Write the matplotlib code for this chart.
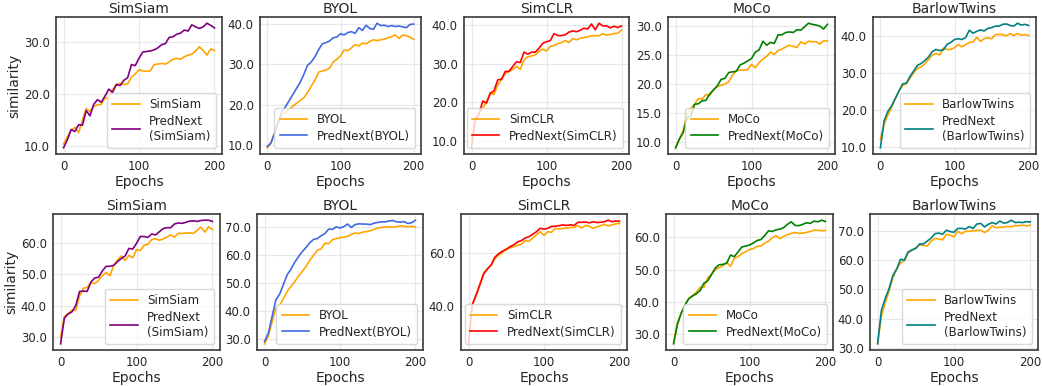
import matplotlib
matplotlib.use("Agg")
import matplotlib.pyplot as plt
from matplotlib.ticker import MultipleLocator, FormatStrFormatter

epochs = list(range(0, 201, 5))
methods = ["SimSiam", "BYOL", "SimCLR", "MoCo", "BarlowTwins"]
pred_labels = ["PredNext\n(SimSiam)", "PredNext(BYOL)", "PredNext(SimCLR)", "PredNext(MoCo)", "PredNext\n(BarlowTwins)"]
pred_colors = ["purple", "royalblue", "red", "green", "teal"]

# top row
simsiam_top_base = [10.4, 11.8, 13.0, 13.6, 12.6, 15.0, 17.2, 16.6, 17.6, 17.9, 18.0, 19.3, 19.0, 20.8, 21.8, 22.0, 21.8,
                    21.9, 23.2, 23.8, 24.6, 24.4, 24.3, 24.4, 25.6, 25.7, 25.8, 25.7, 26.1, 26.6, 26.8, 26.6, 27.1, 27.4,
                    27.6, 28.2, 29.0, 28.3, 27.4, 28.6, 28.3]
simsiam_top_pred = [9.7, 11.2, 13.2, 12.8, 14.1, 14.0, 16.8, 15.8, 18.0, 18.9, 18.4, 19.6, 20.9, 20.3, 21.8, 21.6, 22.6,
                    23.1, 25.6, 25.4, 26.8, 28.0, 28.1, 28.2, 28.4, 28.8, 29.4, 29.6, 30.8, 30.9, 31.4, 31.6, 32.2, 32.0,
                    33.2, 32.8, 32.5, 32.8, 33.5, 33.1, 32.6]
byol_top_base = [9.3, 10.5, 13.0, 16.0, 17.5, 18.0, 18.8, 19.6, 20.3, 21.0, 21.7, 23.0, 24.5, 26.0, 28.0, 28.3, 28.5,
                 29.0, 30.5, 31.2, 32.0, 33.5, 33.3, 34.0, 34.8, 34.5, 35.2, 35.0, 35.6, 36.0, 35.8, 36.0, 36.2, 36.5,
                 36.8, 37.2, 36.3, 37.2, 37.0, 36.7, 36.1]
byol_top_pred = [9.6, 10.5, 13.0, 15.5, 18.3, 19.5, 21.0, 22.5, 24.0, 25.5, 27.5, 29.7, 30.5, 31.8, 33.5, 35.0, 35.3,
                 35.7, 36.5, 36.7, 37.5, 37.2, 37.8, 38.0, 37.6, 39.0, 38.3, 39.6, 38.8, 38.6, 40.1, 39.5, 39.6, 39.3,
                 39.5, 39.3, 39.4, 39.2, 39.0, 39.8, 39.9]
simclr_top_base = [10.4, 15.5, 17.0, 18.5, 20.0, 22.5, 22.0, 24.5, 25.8, 27.5, 28.0, 28.5, 29.3, 28.5, 31.0, 31.8, 32.0,
                   32.3, 33.2, 33.8, 33.3, 34.5, 34.7, 35.2, 35.5, 36.0, 35.5, 36.5, 36.2, 36.6, 36.8, 37.0, 37.2, 37.3,
                   37.2, 37.8, 37.4, 37.6, 37.8, 37.9, 38.7]
simclr_top_pred = [8.2, 15.5, 17.0, 20.3, 19.8, 22.3, 23.0, 25.8, 26.0, 28.0, 28.0, 29.3, 30.5, 30.3, 33.0, 32.5, 33.0,
                   33.0, 34.0, 35.3, 35.7, 36.0, 37.8, 37.3, 37.3, 37.5, 38.2, 38.5, 38.3, 38.7, 39.2, 39.0, 40.3, 38.8,
                   40.5, 39.8, 39.8, 39.3, 39.7, 39.4, 39.8]
moco_top_base = [9.0, 10.5, 12.0, 14.8, 15.8, 16.5, 17.5, 17.4, 18.2, 18.0, 19.0, 19.6, 19.8, 20.0, 20.4, 21.5, 22.3,
                 22.4, 22.4, 22.5, 23.4, 22.8, 23.7, 24.3, 24.8, 25.5, 25.1, 25.8, 26.0, 26.4, 26.7, 26.5, 26.3, 27.3,
                 26.9, 27.4, 27.3, 27.3, 26.9, 27.5, 27.4]
moco_top_pred = [9.0, 10.5, 11.6, 14.2, 14.4, 16.5, 16.6, 17.1, 17.2, 18.3, 19.0, 19.7, 20.8, 21.0, 22.0, 22.1, 22.2,
                 23.3, 23.6, 24.0, 24.4, 25.5, 25.9, 27.4, 26.7, 27.2, 27.0, 28.5, 28.5, 28.9, 29.0, 28.9, 29.4, 29.3,
                 29.9, 30.5, 30.3, 30.2, 30.0, 29.5, 30.3]
barlow_top_base = [12.0, 16.0, 18.5, 20.5, 23.0, 25.0, 26.5, 27.0, 28.5, 30.0, 31.2, 31.6, 32.4, 33.6, 34.8, 35.2, 34.8,
                   36.7, 36.3, 36.3, 36.8, 37.6, 37.0, 37.6, 38.2, 38.3, 39.6, 38.5, 39.2, 39.5, 39.2, 40.3, 40.4, 40.3,
                   40.0, 40.6, 40.1, 40.6, 40.2, 40.3, 40.1]
barlow_top_pred = [9.7, 17.0, 19.5, 21.0, 23.0, 25.0, 27.0, 27.2, 29.0, 30.5, 32.0, 32.5, 33.3, 34.3, 35.7, 36.3, 36.0,
                   36.2, 37.7, 38.2, 39.0, 39.2, 39.0, 39.5, 41.5, 40.7, 41.2, 41.6, 41.3, 42.0, 42.2, 42.6, 42.6, 43.1,
                   43.2, 42.8, 42.6, 43.4, 42.9, 43.1, 42.8]

# bottom row
simsiam_bot_base = [30.0, 36.5, 37.5, 38.5, 38.5, 43.0, 45.5, 45.8, 47.3, 47.0, 48.0, 49.5, 50.5, 49.5, 52.8, 54.5, 55.8,
                    54.3, 56.0, 55.2, 57.8, 57.5, 59.2, 59.5, 61.0, 61.3, 60.8, 61.2, 61.8, 62.5, 61.8, 63.0, 63.0, 63.1,
                    63.1, 63.0, 64.0, 65.0, 63.4, 65.1, 64.2]
simsiam_bot_pred = [27.8, 36.0, 37.3, 38.0, 40.0, 44.5, 44.6, 44.5, 47.5, 48.8, 49.0, 51.0, 52.5, 52.5, 52.8, 54.0, 55.0,
                    55.8, 58.2, 58.0, 59.8, 62.0, 62.0, 61.7, 62.8, 62.5, 63.5, 64.5, 64.8, 64.8, 66.0, 66.3, 66.2, 66.5,
                    66.9, 67.0, 66.8, 67.1, 67.2, 67.2, 66.8]
byol_bot_base = [28.2, 31.0, 36.0, 41.0, 42.0, 44.5, 47.0, 48.8, 50.5, 52.5, 54.2, 56.0, 58.2, 60.0, 61.8, 62.3, 64.3,
                 64.2, 65.6, 66.0, 66.3, 66.5, 66.8, 67.5, 68.0, 67.8, 68.3, 68.5, 68.8, 69.3, 69.8, 70.0, 70.1, 70.2,
                 70.1, 70.3, 70.6, 70.4, 70.2, 70.4, 70.1]
byol_bot_pred = [29.0, 32.0, 38.0, 44.0, 46.0, 49.5, 53.0, 55.0, 57.5, 59.5, 61.3, 62.8, 64.5, 65.7, 66.0, 67.0, 67.8,
                 69.4, 69.3, 70.2, 69.8, 70.3, 71.2, 70.0, 71.0, 71.3, 71.2, 71.2, 71.0, 71.5, 71.8, 72.0, 72.0, 72.3,
                 72.5, 72.0, 71.9, 72.1, 71.4, 71.7, 72.6]
simclr_bot_base = [30.0, 40.0, 44.0, 48.0, 52.5, 54.0, 55.5, 58.0, 59.3, 60.3, 61.5, 62.0, 62.5, 63.0, 63.4, 64.8, 64.5,
                   65.8, 67.0, 68.2, 66.8, 68.2, 68.0, 69.5, 69.2, 69.5, 69.6, 69.8, 69.8, 70.5, 69.6, 70.6, 70.3, 69.5,
                   70.0, 70.5, 71.0, 70.4, 70.8, 71.2, 71.4]
simclr_bot_pred = [25.4, 40.5, 44.0, 48.0, 52.0, 54.0, 55.5, 58.5, 59.8, 60.8, 61.5, 62.5, 63.2, 64.3, 64.8, 65.8, 66.3,
                   67.2, 68.2, 69.5, 69.2, 69.5, 70.2, 70.3, 70.5, 70.8, 70.6, 70.8, 70.6, 71.8, 71.8, 71.9, 71.6, 72.0,
                   71.7, 71.8, 72.0, 72.6, 72.0, 72.3, 72.2]
moco_bot_base = [27.2, 33.5, 36.5, 39.0, 41.0, 42.0, 43.0, 44.5, 44.5, 47.5, 48.5, 50.0, 50.6, 51.2, 52.2, 51.0, 53.5,
                 54.0, 55.0, 55.5, 56.2, 56.5, 57.2, 57.3, 58.2, 58.8, 59.8, 60.5, 59.6, 60.3, 60.8, 61.2, 61.5, 61.2,
                 61.3, 61.5, 61.8, 62.2, 62.2, 62.0, 62.1]
moco_bot_pred = [27.0, 33.0, 36.5, 39.0, 41.0, 41.8, 42.5, 43.5, 45.8, 46.5, 48.5, 50.5, 51.5, 51.6, 52.0, 54.5, 54.0,
                 55.5, 57.0, 57.3, 57.6, 58.2, 59.0, 59.3, 60.5, 62.0, 61.8, 62.3, 62.5, 63.0, 64.0, 64.8, 63.7, 63.6,
                 64.0, 64.5, 64.3, 65.0, 64.8, 65.3, 64.9]
barlow_bot_base = [32.0, 41.0, 45.5, 49.5, 54.0, 57.0, 59.0, 59.8, 62.5, 63.3, 64.2, 65.3, 65.0, 64.8, 66.5, 67.4, 67.2,
                   66.9, 68.8, 68.5, 67.9, 69.8, 69.0, 69.8, 69.8, 70.0, 70.1, 70.2, 69.4, 70.2, 71.7, 71.0, 71.2, 71.2,
                   71.5, 71.3, 71.8, 71.7, 71.9, 71.6, 71.9]
barlow_bot_pred = [31.5, 43.0, 47.0, 50.3, 54.8, 57.0, 60.3, 60.0, 62.8, 63.5, 64.0, 65.5, 65.5, 66.5, 67.5, 69.0, 69.2,
                   68.8, 70.2, 69.7, 69.5, 70.8, 70.8, 70.6, 71.4, 70.8, 72.3, 72.5, 71.3, 72.2, 72.8, 72.3, 73.3, 72.6,
                   72.8, 73.6, 72.8, 72.9, 72.8, 73.1, 73.0]

top_rows = [(simsiam_top_base, simsiam_top_pred), (byol_top_base, byol_top_pred), (simclr_top_base, simclr_top_pred),
            (moco_top_base, moco_top_pred), (barlow_top_base, barlow_top_pred)]
bot_rows = [(simsiam_bot_base, simsiam_bot_pred), (byol_bot_base, byol_bot_pred), (simclr_bot_base, simclr_bot_pred),
            (moco_bot_base, moco_bot_pred), (barlow_bot_base, barlow_bot_pred)]
top_steps = [10, 10, 10, 5, 10]
bot_steps = [10, 10, 20, 10, 10]

plt.rcParams.update({
    "font.family": "DejaVu Sans",
    "axes.edgecolor": "#3a3a3a",
    "axes.linewidth": 1.2,
    "grid.color": "#e8e8e8",
    "grid.linewidth": 0.9,
    "xtick.color": "#262626",
    "ytick.color": "#262626",
    "text.color": "#262626",
    "axes.labelcolor": "#262626",
})

fig = plt.figure(figsize=(10.42, 3.86), dpi=100)
W, H = 1042, 386
top_lefts = [(56, 222), (260, 421), (464, 629), (668, 835), (873, 1036)]
bot_lefts = [(53, 220), (257, 423), (461, 627), (666, 833), (870, 1038)]


def draw_panel(rect, base, pred, i, step):
    ax = fig.add_axes(rect)
    ax.plot(epochs, base, color="orange", lw=1.2, label=methods[i])
    ax.plot(epochs, pred, color=pred_colors[i], lw=1.2, label=pred_labels[i])
    ax.set_title(methods[i], fontsize=10, pad=3)
    ax.set_xlabel("Epochs", fontsize=10, labelpad=1)
    ax.xaxis.set_major_locator(MultipleLocator(100))
    ax.yaxis.set_major_locator(MultipleLocator(step))
    ax.yaxis.set_major_formatter(FormatStrFormatter("%.1f"))
    ax.tick_params(labelsize=8.5, length=0, pad=4.5)
    ax.grid(True)
    ax.set_axisbelow(True)
    leg = ax.legend(loc="lower right", fontsize=8.6, frameon=True, fancybox=True,
                    handlelength=2.3, borderpad=0.45, labelspacing=0.3)
    leg.get_frame().set_edgecolor("#d0d0d0")
    if i == 0:
        ax.set_ylabel("similarity", fontsize=10, labelpad=2)
    return ax


for i in range(5):
    l, r = top_lefts[i]
    draw_panel([l / W, 1 - 154 / H, (r - l) / W, 137 / H], top_rows[i][0], top_rows[i][1], i, top_steps[i])
    l, r = bot_lefts[i]
    draw_panel([l / W, 1 - 350 / H, (r - l) / W, 136 / H], bot_rows[i][0], bot_rows[i][1], i, bot_steps[i])

fig.savefig("out.png", dpi=100)
